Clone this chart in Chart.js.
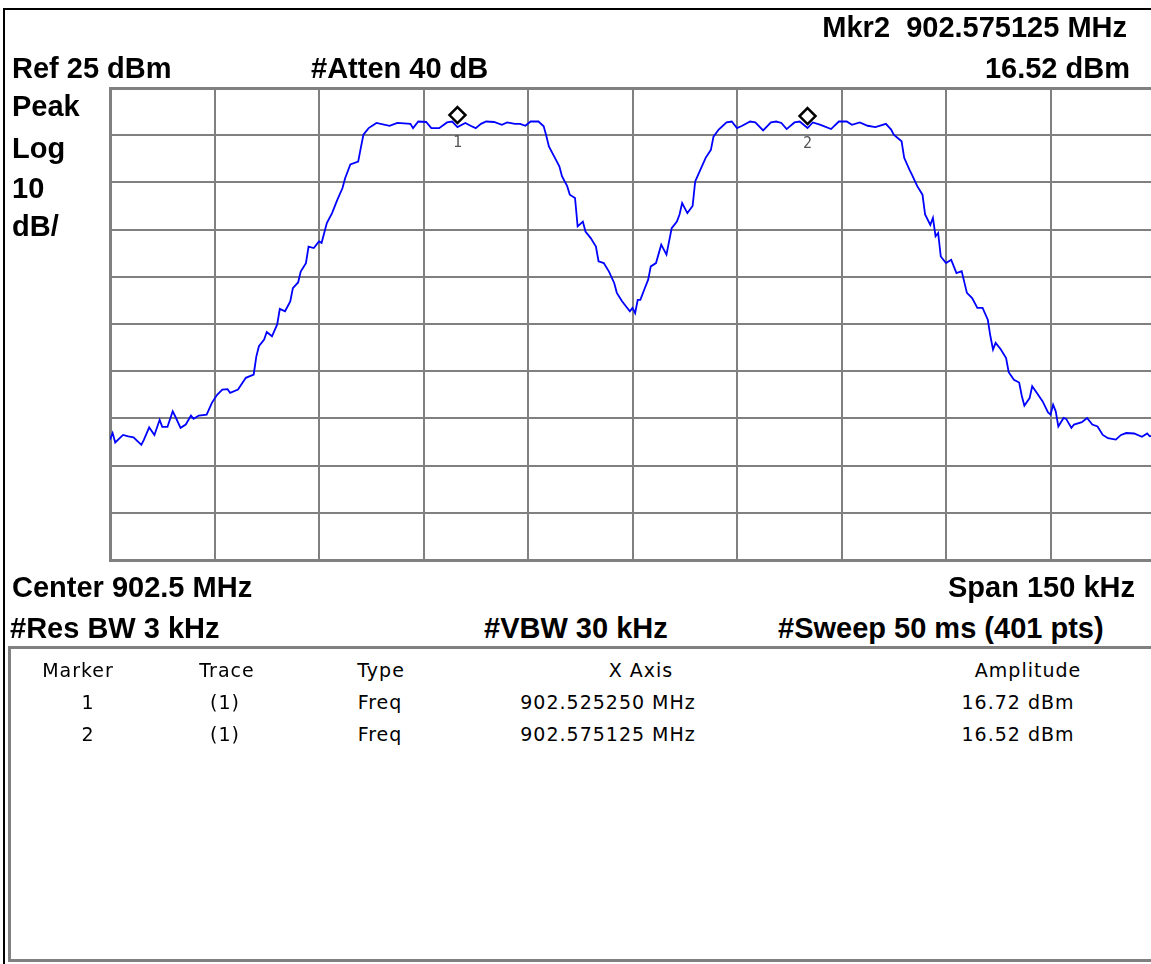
<!DOCTYPE html>
<html>
<head>
<meta charset="utf-8">
<script src="https://cdn.jsdelivr.net/npm/chart.js@4.4.1/dist/chart.umd.min.js"></script>
<style>
  body { margin: 0; background: #fff; }
  #screen { position: relative; width: 1151px; height: 964px; overflow: hidden; background: #fff; }
  #frame { position: absolute; left: 3px; top: 8px; width: 1200px; height: 1000px; border-top: 2px solid #000; border-left: 2px solid #000; }
  #chart { position: absolute; left: 0; top: 0; }
  .hd { position: absolute; font-family: "Liberation Sans", Arial, sans-serif; font-weight: bold; font-size: 29px; line-height: 30px; color: #000; white-space: pre; }
  #table { position: absolute; left: 8px; top: 646px; width: 1200px; height: 310px; border: 3px solid #808080; }
  .tb { position: absolute; font-family: "DejaVu Sans", sans-serif; font-size: 19px; line-height: 20px; color: #000; white-space: pre; transform: translateX(-50%); letter-spacing: 1px; }
</style>
</head>
<body>
<div id="screen">
  <div id="frame"></div>
  <canvas id="chart" width="1160" height="575"></canvas>

  <div class="hd" style="right:24px; top:12px;">Mkr2  902.575125 MHz</div>
  <div class="hd" style="left:12px; top:53px;">Ref 25 dBm</div>
  <div class="hd" style="left:311px; top:53px;">#Atten 40 dB</div>
  <div class="hd" style="right:21px; top:53px;">16.52 dBm</div>
  <div class="hd" style="left:12px; top:91px;">Peak</div>
  <div class="hd" style="left:12px; top:133px;">Log</div>
  <div class="hd" style="left:12px; top:173px;">10</div>
  <div class="hd" style="left:12px; top:211px;">dB/</div>
  <div class="hd" style="left:12px; top:572px;">Center 902.5 MHz</div>
  <div class="hd" style="right:16px; top:572px;">Span 150 kHz</div>
  <div class="hd" style="left:10px; top:613px;">#Res BW 3 kHz</div>
  <div class="hd" style="left:484px; top:613px;">#VBW 30 kHz</div>
  <div class="hd" style="left:778px; top:613px;">#Sweep 50 ms (401 pts)</div>

  <div id="table"></div>
</div>

<script>
// TRACE DATA (point index of the 401 sweep points, amplitude in dBm)
const pointIdx = [0,1,2,5,7,9,12,13,15,17,19,20,22,24,25,27,29,31,32,34,37,39,41,43,45,46,49,52,55,56,57,59,60,62,64,65,67,69,70,72,73,75,76,78,80,81,83,85,87,89,90,92,95,96,97,99,102,107,110,115,116,118,121,123,126,129,131,133,136,138,140,142,144,147,150,152,155,157,159,161,164,166,167,168,170,172,173,175,176,178,179,181,182,184,186,187,189,191,193,194,196,198,199,200,201,202,203,205,206,207,209,211,213,215,217,218,219,221,223,224,226,228,230,231,233,236,238,240,242,245,247,250,253,255,257,259,262,264,267,269,272,276,279,282,284,287,290,293,297,299,300,303,304,306,307,309,311,312,314,315,316,317,318,320,322,324,326,328,330,332,334,336,337,338,339,341,343,344,346,348,349,350,352,353,355,357,359,360,361,362,363,365,366,368,369,372,374,376,378,380,382,385,387,389,392,395,397,398,400];
const amplitude = [-49.5,-48.1,-50.1,-48.5,-48.8,-49.0,-50.6,-49.5,-46.9,-48.5,-45.3,-46.8,-46.8,-43.5,-44.6,-47.0,-46.3,-44.4,-45.1,-44.4,-44.2,-41.7,-40.0,-38.9,-38.8,-39.6,-38.9,-36.4,-35.7,-31.9,-29.7,-28.3,-26.7,-27.6,-25.1,-21.8,-22.3,-20.2,-17.4,-16.2,-13.9,-12.1,-8.6,-8.9,-7.5,-7.8,-3.6,-1.5,1.3,3.8,5.9,8.8,9.4,12.3,15.1,16.5,17.6,17.0,17.6,17.4,16.5,17.9,17.8,16.5,16.5,17.7,17.9,16.72,17.6,17.0,16.5,17.4,17.9,17.8,17.2,17.7,17.4,17.4,17.0,17.9,17.9,16.9,14.9,12.6,10.5,8.4,6.3,4.2,2.4,1.7,-4.3,-3.3,-5.4,-6.8,-8.6,-11.7,-12.1,-13.9,-16.3,-18.4,-20.2,-21.6,-22.3,-21.6,-22.7,-19.9,-19.9,-17.0,-15.6,-12.8,-12.1,-8.2,-10.3,-4.7,-3.3,-1.8,0.6,-1.5,0.0,5.2,7.7,10.2,11.9,14.7,16.2,17.7,17.9,16.5,17.0,17.9,17.7,16.0,17.7,17.9,17.6,16.3,17.7,17.9,16.52,17.7,17.2,16.3,17.9,17.9,17.2,17.7,17.0,16.7,17.4,16.2,15.1,13.7,10.2,7.7,6.6,4.2,2.4,-1.8,-4.0,-2.5,-6.4,-5.7,-10.7,-12.1,-11.4,-14.2,-13.8,-18.4,-19.5,-21.6,-21.6,-24.1,-27.6,-30.4,-29.0,-30.4,-32.2,-35.2,-36.8,-37.4,-40.2,-42.3,-40.7,-38.2,-39.8,-41.4,-43.7,-44.2,-42.1,-43.5,-46.7,-44.9,-45.1,-47.0,-46.3,-45.8,-44.9,-46.3,-46.7,-48.5,-49.2,-49.5,-48.5,-48.1,-48.2,-48.9,-48.2,-48.8,-48.5];

// markers
const markerNames = ['1', '2'];
const markerIdx = [133, 267];
const markerAmp = [16.72, 16.52];
const markerFreq = ['902.525250 MHz', '902.575125 MHz'];

// grid: 10 divisions, ref 25 dBm, 10 dB/div
const refLevel = 25;
const dbPerDiv = 10;
const numPoints = 401;

// MARKER TABLE (header x, value x)
const table = document.querySelector('#table');
const cols = [
  { hx: 67, vx: 77, head: 'Marker', vals: markerNames },
  { hx: 216, vx: 214, head: 'Trace', vals: ['(1)', '(1)'] },
  { hx: 370, vx: 369, head: 'Type', vals: ['Freq', 'Freq'] },
  { hx: 630, vx: 597, head: 'X Axis', vals: markerFreq },
  { hx: 1017, vx: 1007, head: 'Amplitude', vals: markerAmp.map(a => a.toFixed(2) + ' dBm') }
];
cols.forEach(c => {
  const rows = [c.head].concat(c.vals);
  rows.forEach((txt, r) => {
    const d = document.createElement('div');
    d.className = 'tb';
    d.style.left = (r === 0 ? c.hx : c.vx) + 'px';
    d.style.top = (11 + r * 32) + 'px';
    d.textContent = txt;
    table.appendChild(d);
  });
});

// diamond markers drawn above the trace point
const markerPlugin = {
  id: 'markers',
  afterDatasetsDraw(chart) {
    const { ctx, scales: { x, y } } = chart;
    ctx.save();
    markerIdx.forEach((m, i) => {
      const px = x.getPixelForValue(m);
      const py = y.getPixelForValue(markerAmp[i]);
      const cy = py - 12;
      ctx.beginPath();
      ctx.moveTo(px, cy - 8);
      ctx.lineTo(px + 8, cy);
      ctx.lineTo(px, cy + 8);
      ctx.lineTo(px - 8, cy);
      ctx.closePath();
      ctx.fillStyle = '#fff';
      ctx.fill();
      ctx.lineWidth = 2.5;
      ctx.strokeStyle = '#000';
      ctx.stroke();
      ctx.fillStyle = '#555';
      ctx.font = '15px "DejaVu Sans Mono", monospace';
      ctx.textAlign = 'center';
      ctx.textBaseline = 'middle';
      ctx.fillText(markerNames[i], px, py + 16);
    });
    ctx.restore();
  }
};

// GRAFICO
const gridWidth = c => (c.index === 0 || c.index === 10) ? 3 : 2;

new Chart(document.querySelector('#chart').getContext('2d'), {
  type: 'line',
  data: {
    datasets: [{
      data: pointIdx.map((p, i) => ({ x: p, y: amplitude[i] })),
      borderColor: '#0000ff',
      borderWidth: 1.8,
      pointRadius: 0,
      tension: 0,
      fill: false
    }]
  },
  options: {
    responsive: false,
    animation: false,
    events: [],
    layout: { padding: { left: 110, top: 88, right: 5, bottom: 15 } },
    plugins: { legend: { display: false }, tooltip: { enabled: false } },
    scales: {
      x: {
        type: 'linear',
        min: 0,
        max: numPoints - 1,
        ticks: { display: false, stepSize: (numPoints - 1) / 10 },
        grid: { color: '#808080', lineWidth: gridWidth, drawTicks: false },
        border: { color: '#808080', width: 3 }
      },
      y: {
        min: refLevel - 10 * dbPerDiv,
        max: refLevel,
        ticks: { display: false, stepSize: dbPerDiv },
        grid: { color: '#808080', lineWidth: gridWidth, drawTicks: false },
        border: { color: '#808080', width: 3 }
      }
    }
  },
  plugins: [markerPlugin]
});
</script>
</body>
</html>
